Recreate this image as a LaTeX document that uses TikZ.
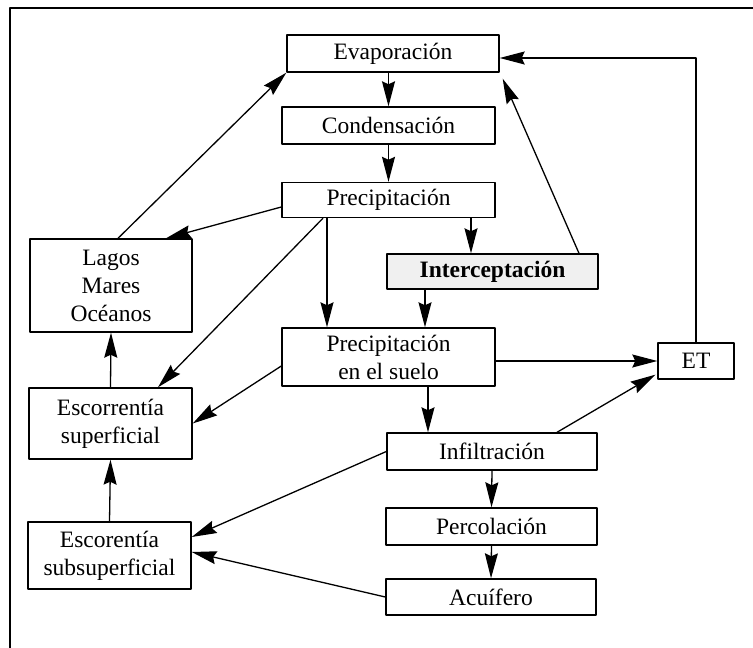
\documentclass[tikz,border=0pt]{standalone}
\usepackage{fontspec}
\setmainfont{Liberation Serif}
\usetikzlibrary{arrows.meta,calc}
\begin{document}
\begin{tikzpicture}[x=1pt,y=-1pt,line join=round,
	>={Stealth[length=25pt,width=13pt,inset=3pt]},
	box/.style={draw,line width=1.4pt,inner sep=0pt,align=center,font=\fontsize{23.5}{28}\selectfont},
	arr/.style={->,line width=1.3pt}]
	\useasboundingbox (0,0) rectangle (753,648);
	% marco
	\draw[line width=2.8pt] (10,648) -- (10,8) -- (753,8);
	% columna central
	\node[box,minimum width=212,minimum height=37] (evap) at (393,53.5) {Evaporación};
	\node[box,minimum width=213,minimum height=37] (cond) at (388.5,125.5) {Condensación};
	\node[box,minimum width=213,minimum height=35] (prec) at (388.5,200) {Precipitación};
	\node[box,minimum width=211,minimum height=35,fill=black!6,font=\fontsize{23.5}{28}\selectfont\bfseries] (inter) at (492.5,271.5) {Interceptación};
	\node[box,minimum width=213,minimum height=58] (suelo) at (388.5,357) {Precipitación\\en el suelo};
	\node[box,minimum width=76,minimum height=36] (et) at (696,361) {ET};
	\node[box,minimum width=210,minimum height=37] (infil) at (492,451.5) {Infiltración};
	\node[box,minimum width=211,minimum height=37] (perc) at (491.5,526.5) {Percolación};
	\node[box,minimum width=210,minimum height=36] (acui) at (491,597) {Acuífero};
	% columna izquierda
	\node[box,minimum width=162,minimum height=93] (lagos) at (111,285.5) {Lagos\\Mares\\Océanos};
	\node[box,minimum width=163,minimum height=71] (escsup) at (110.5,423.5) {Escorrentía\\superficial};
	\node[box,minimum width=163,minimum height=67] (escsub) at (109.5,555.5) {Escorentía\\subsuperficial};
	% flechas
	\draw[arr] (evap.south -| cond.north) -- (cond.north);
	\draw[arr] (cond.south) -- (prec.north);
	\draw[arr] ($(prec.west)+(0,7)$) -- ($(lagos.north)+(55,0)$);
	\draw[arr] ($(lagos.north)+(7,0)$) -- (evap.south west);
	\draw[arr] ($(prec.south)+(82.5,0)$) coordinate (pa) -- (inter.north -| pa);
	\draw[arr] ($(prec.south)+(-61.5,0)$) coordinate (pb) -- (suelo.north -| pb);
	\draw[arr] ($(prec.south)+(-65.5,0)$) -- ($(escsup.north)+(47.5,0)$);
	\draw[arr] ($(inter.north)+(86.5,0)$) -- ($(evap.south east)+(3,6)$);
	\draw[arr] ($(inter.south)+(-67.5,0)$) coordinate (pc) -- (suelo.north -| pc);
	\draw[arr] (et.north) |- ($(evap.east)+(0,4.5)$);
	\draw[arr] (suelo.east |- et.west) -- (et.west);
	\draw[arr] ($(suelo.west)+(0,9)$) -- (escsup.east);
	\draw[arr] (escsup.north) -- (lagos.south);
	\draw[arr] ($(suelo.south)+(39.5,0)$) coordinate (pd) -- (infil.north -| pd);
	\draw[arr] ($(infil.north)+(65,0)$) -- ($(et.south west)+(-2,-5)$);
	\draw[arr] (infil.west) -- ($(escsub.east)+(0,-18.5)$);
	\draw[arr] (escsub.north) -- (escsup.south);
	\draw[arr] (infil.south) -- (perc.north);
	\draw[arr] (perc.south) -- (acui.north);
	\draw[arr] (acui.west) -- ($(escsub.east)+(0,-3.5)$);
\end{tikzpicture}
\end{document}
